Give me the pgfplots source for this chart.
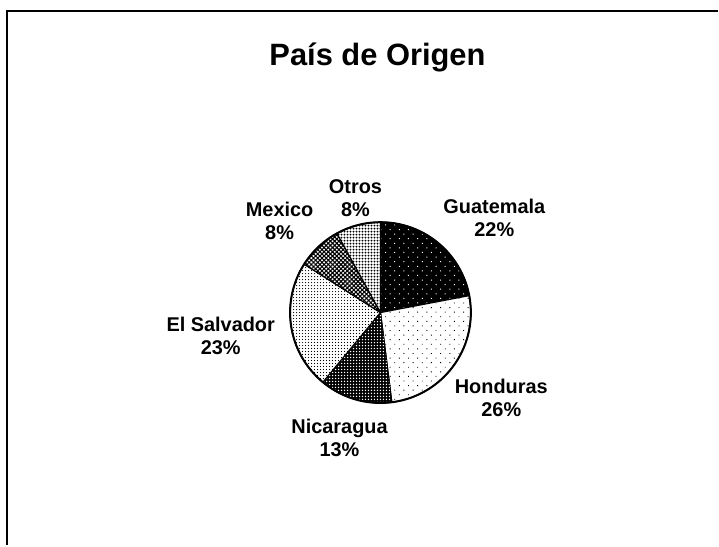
\documentclass[border=0pt]{standalone}
\usepackage{pgfplots}
\pgfplotsset{compat=1.18}
\usepackage{pgfplotstable}
\usepackage{fontspec}
\setmainfont{Liberation Sans}
\usetikzlibrary{patterns.meta}

\pgfplotstableread[col sep=comma]{
name,share,lx,ly
Guatemala,22,495,213.5
Honduras,26,502,394
Nicaragua,13,340,434.5
El Salvador,23,221,332
Mexico,8,280,217
Otros,8,356,194
}\piedata

\newcommand\labfont{\fontsize{20}{23}\selectfont\bfseries}
\tikzset{
 slicebase/.style={draw=black, line width=1.2bp, line join=round},
 slice0/.style={slicebase, fill=black, postaction={pattern={Dots[distance=6.5bp, angle=45, radius=0.7bp]}, pattern color=white}},
 slice1/.style={slicebase, fill=white, postaction={pattern={Dots[distance=6.5bp, angle=45, radius=0.65bp]}, pattern color=black}},
 slice2/.style={slicebase, fill=black, postaction={pattern={Dots[distance=3bp, radius=0.75bp]}, pattern color=white}},
 slice3/.style={slicebase, fill=white, postaction={pattern={Dots[distance=3bp, radius=0.6bp]}, pattern color=black}},
 slice4/.style={slicebase, fill=white, postaction={pattern={Hatch[distance=3bp, angle=45, line width=1.15bp]}, pattern color=black}},
 slice5/.style={slicebase, fill=white, postaction={pattern={Dots[distance=3bp, radius=1.05bp]}, pattern color=black}},
}

\begin{document}
\begin{tikzpicture}
\begin{axis}[
  width=719bp, height=546bp, scale only axis,
  xmin=0, xmax=719, ymin=0, ymax=546, y dir=reverse,
  hide axis, clip=false,
]
\fill[white] (axis cs:0,0) rectangle (axis cs:719,546);
\draw[line width=2bp] (axis cs:7,546) -- (axis cs:7,11) -- (axis cs:719,11);
\node[font=\fontsize{31}{36}\selectfont\bfseries, anchor=base] at (axis cs:378,66) {País de Origen};

\def\cum{90}
\pgfplotsforeachungrouped \i in {0,...,5}{%
  \pgfplotstablegetelem{\i}{share}\of\piedata \let\sh\pgfplotsretval
  \pgfplotstablegetelem{\i}{name}\of\piedata \let\nm\pgfplotsretval
  \pgfplotstablegetelem{\i}{lx}\of\piedata \let\lx\pgfplotsretval
  \pgfplotstablegetelem{\i}{ly}\of\piedata \let\ly\pgfplotsretval
  \pgfmathsetmacro\endang{\cum-3.6*\sh}
  \pgfmathsetmacro\lyy{\ly+23}
  \edef\temp{%
    \noexpand\path[slice\i] (axis cs:381,313) -- ++(\cum:90.5bp) arc[start angle=\cum, end angle=\endang, radius=90.5bp] -- cycle;
    \noexpand\node[font=\noexpand\labfont, anchor=base] at (axis cs:\lx,\ly) {\nm};
    \noexpand\node[font=\noexpand\labfont, anchor=base] at (axis cs:\lx,\lyy) {\sh\noexpand\%};
  }%
  \temp
  \let\cum\endang
}
\draw[line width=2bp] (axis cs:381,313) circle[radius=90.5bp];
\end{axis}
\end{tikzpicture}
\end{document}
